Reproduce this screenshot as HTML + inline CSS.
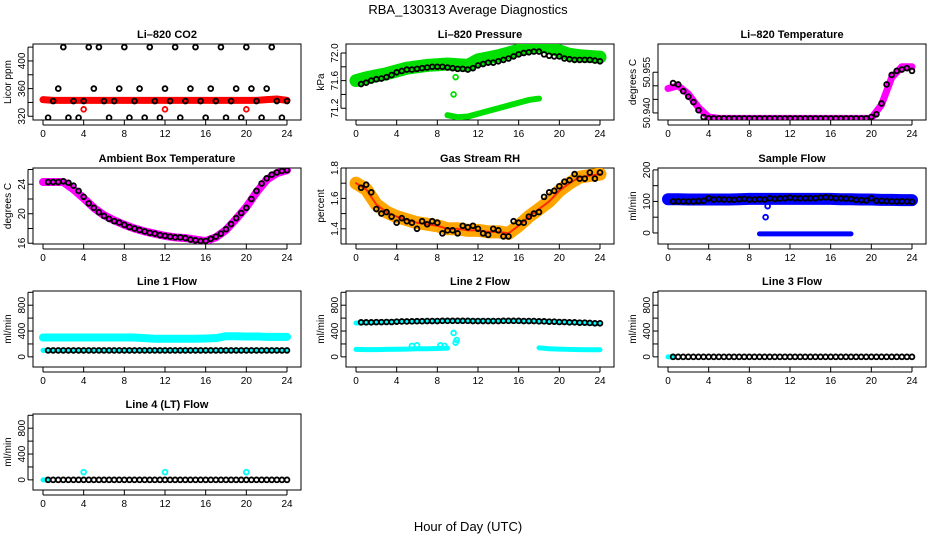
<!DOCTYPE html>
<html><head><meta charset="utf-8">
<style>
body{margin:0;background:#fff;}
svg{display:block;font-family:"Liberation Sans",sans-serif;}
</style></head>
<body>
<svg id="c" width="936" height="540" viewBox="0 0 936 540">
<text x="468" y="14" text-anchor="middle" font-size="13">RBA_130313  Average Diagnostics</text>
<text x="468" y="531" text-anchor="middle" font-size="13">Hour of Day (UTC)</text>
</svg>
<script>
// ---- data (hours, values) ----
const halfHours = [0.5,1,1.5,2,2.5,3,3.5,4,4.5,5,5.5,6,6.5,7,7.5,8,8.5,9,9.5,10,10.5,11,11.5,12,12.5,13,13.5,14,14.5,15,15.5,16,16.5,17,17.5,18,18.5,19,19.5,20,20.5,21,21.5,22,22.5,23,23.5,24];
const bandHours = [0,1,2,3,4,5,6,7,8,9,10,11,12,13,14,15,16,17,18,19,20,21,22,23,24];

const co2Black = [318,342,360,420,318,342,318,342,420,360,420,342,318,342,360,420,318,342,360,318,420,342,318,360,342,420,318,342,360,420,342,318,360,342,420,318,342,360,318,420,360,342,318,360,420,342,318,342];
const co2Red = [344,343,343,343,343,343,343,343,343,343,343,343,343,343,343,343,343,343,343,343,343,343,344,345,343];
const co2RedOutHours = [4,12,20];
const co2RedOut = [330,330,330];

const presBlack = [71.55,71.57,71.6,71.62,71.63,71.65,71.68,71.72,71.74,71.76,71.76,71.77,71.78,71.79,71.8,71.8,71.8,71.79,71.78,71.77,71.77,71.76,71.78,71.82,71.84,71.86,71.86,71.88,71.9,71.92,71.95,71.98,72.0,72.01,72.02,72.02,71.98,71.96,71.95,71.95,71.92,71.91,71.9,71.9,71.9,71.9,71.89,71.88];
const presUpper = [71.6,71.64,71.67,71.7,71.74,71.78,71.8,71.82,71.83,71.84,71.83,71.82,71.9,71.93,71.96,72.0,72.04,72.08,72.1,72.08,72.03,71.98,71.96,71.95,71.94];
const presLowerHours = [9,10,11,12,13,14,15,16,17,18];
const presLower = [71.1,71.07,71.08,71.12,71.16,71.2,71.24,71.28,71.32,71.34];
const presOutHours = [9.6,9.8];
const presOut = [71.4,71.65];

const tempBlack = [50.951,50.9505,50.948,50.946,50.944,50.941,50.9385,50.938,50.938,50.938,50.938,50.938,50.938,50.938,50.938,50.938,50.938,50.938,50.938,50.938,50.938,50.938,50.938,50.938,50.938,50.938,50.938,50.938,50.938,50.938,50.938,50.938,50.938,50.938,50.938,50.938,50.938,50.938,50.938,50.9385,50.9395,50.9435,50.9505,50.954,50.9555,50.956,50.9565,50.9555];
const tempBand = [50.949,50.950,50.947,50.942,50.9385,50.938,50.938,50.938,50.938,50.938,50.938,50.938,50.938,50.938,50.938,50.938,50.938,50.938,50.938,50.938,50.938,50.943,50.953,50.957,50.957];

const ambBlack = [24.3,24.3,24.3,24.4,24.2,23.8,23.1,22.3,21.4,20.8,20.2,19.7,19.3,19.0,18.8,18.5,18.2,18.0,17.8,17.6,17.4,17.3,17.1,17.0,16.9,16.8,16.8,16.7,16.5,16.4,16.3,16.3,16.6,16.9,17.3,17.9,18.6,19.4,20.1,20.8,22.0,23.1,24.1,24.8,25.3,25.6,25.8,25.9];
const ambBand = [24.3,24.3,24.3,23.3,22.1,20.8,19.8,19.1,18.5,18.0,17.6,17.3,17.0,16.8,16.7,16.5,16.3,16.8,17.8,19.3,20.9,22.9,24.6,25.5,25.9];

const rhBlack = [1.67,1.69,1.64,1.53,1.50,1.51,1.48,1.44,1.47,1.45,1.44,1.40,1.45,1.43,1.45,1.44,1.37,1.39,1.39,1.37,1.42,1.41,1.42,1.40,1.37,1.36,1.40,1.39,1.35,1.35,1.45,1.44,1.44,1.48,1.50,1.51,1.61,1.64,1.65,1.68,1.71,1.72,1.76,1.73,1.73,1.77,1.73,1.77];
const rhBand = [1.70,1.66,1.56,1.51,1.48,1.46,1.44,1.43,1.42,1.40,1.40,1.39,1.39,1.38,1.38,1.37,1.42,1.48,1.53,1.58,1.65,1.70,1.74,1.75,1.76];

const sfBlack = [100,100,100,100,100,101,102,110,106,107,106,106,105,107,108,106,106,107,106,110,108,109,110,112,110,110,110,110,110,112,113,112,110,110,109,108,105,104,103,110,102,102,101,100,100,100,100,99];
const sfBand = [107,107,106,106,106,106,106,107,108,108,108,108,108,108,108,108,108,107,107,106,106,105,105,104,104];
const sfLowHours = [9,10,11,12,13,14,15,16,17,18];
const sfLow = [-3,-3,-3,-3,-3,-3,-3,-3,-3,-3];
const sfOutHours = [9.6,9.8];
const sfOut = [50,85];

const l1Black = halfHours.map(()=>100);
const l1Band = [300,300,300,300,300,300,300,300,300,300,290,280,280,280,280,280,285,290,320,320,315,315,310,310,310];
const l1Low = [100,100,100,100,100,100,100,100,100,100,100,100,100,100,100,100,100,100,100,100,100,100,100,100,100];

const l2Black = [535,535,535,538,538,540,540,545,548,548,550,552,552,555,555,555,558,558,558,558,558,558,555,555,555,555,555,555,558,558,558,558,555,555,555,550,550,545,545,540,540,535,535,530,530,525,520,520];
const l2Band = [525,530,535,540,545,548,550,552,555,558,558,558,558,555,555,555,555,552,550,545,540,535,530,520,515];
const l2LowHours = [0,1,2,3,4,5,6,7,8,9];
const l2Low = [115,112,112,115,118,120,125,125,130,135];
const l2Low2Hours = [18,19,20,21,22,23,24];
const l2Low2 = [140,125,120,115,112,110,110];
const l2OutHours = [5.5,6,8.3,8.7,9.6,9.8,9.9];
const l2Out = [170,180,180,170,370,220,260];

const l3Black = halfHours.map(()=>0);
const l4Black = halfHours.map(()=>0);
const l4OutHours = [4,12,20];
const l4Out = [120,120,120];

// ---- drawing ----
const svg = document.getElementById('c');
const NS = 'http://www.w3.org/2000/svg';
function mk(tag, attrs, parent){const e=document.createElementNS(NS,tag);for(const k in attrs)e.setAttribute(k,attrs[k]);(parent||svg).appendChild(e);return e;}

function panel(name, title, ylab, left, top, ymin, ymax, ticks, labels){
  const W=268,H=76;
  const g=mk('g',{});
  
  
  const xs = h => left+10+h*(244/24);
  const ys = v => top+H-(v-ymin)/(ymax-ymin)*H;
  const clipId='clip-'+name;
  const cp=mk('clipPath',{id:clipId},g);mk('rect',{x:left,y:top,width:W,height:H},cp);
  const t=mk('text',{x:left+W/2,y:top-6,'text-anchor':'middle','font-size':11,'font-weight':'bold'},g);t.textContent=title;
  
  
  const yl=mk('text',{x:0,y:0,'text-anchor':'middle','font-size':10,transform:`translate(${left-22},${top+H/2}) rotate(-90)`},g);yl.textContent=ylab;
  
  
  for(let h=0;h<=24;h+=4){
    mk('line',{x1:xs(h),x2:xs(h),y1:top+H,y2:top+H+5,stroke:'#000'},g);
    const tx=mk('text',{x:xs(h),y:top+H+17,'text-anchor':'middle','font-size':10},g);tx.textContent=h;
    
    
  }
  mk('line',{x1:xs(0),x2:xs(24),y1:top+H+5,y2:top+H+5,stroke:'#000'},g);
  ticks.forEach((v,i)=>{
    const y=ys(v);
    mk('line',{x1:left-5,x2:left,y1:y,y2:y,stroke:'#000'},g);
    if(labels[i]){
      const ty=mk('text',{x:0,y:0,'text-anchor':'middle','font-size':10,transform:`translate(${left-8},${y}) rotate(-90)`},g);ty.textContent=labels[i];
      
      
    }
  });
  mk('line',{x1:left-5,x2:left-5,y1:ys(ticks[0]),y2:ys(ticks[ticks.length-1]),stroke:'#000'},g);
  mk('rect',{x:left,y:top,width:W,height:H,fill:'none',stroke:'#000'},g);
  const plot=mk('g',{'clip-path':`url(#${clipId})`},g);
  return {
    band(hours, vals, color, width, nm){
      const p=mk('polyline',{points:hours.map((h,i)=>xs(h)+','+ys(vals[i])).join(' '),fill:'none',stroke:color,'stroke-width':width,'stroke-linejoin':'round','stroke-linecap':'round'},plot);
      
      
    },
    pts(hours, vals, color, nm){
      hours.forEach((h,i)=>{
        const c=mk('circle',{cx:xs(h),cy:ys(vals[i]),r:2.4,fill:'none',stroke:color,'stroke-width':1.8},plot);
        
        
      });
    }
  };
}
const C1=33,C2=346,C3=658, R1=44,R2=168,R3=291,R4=414;
const flowTicks=[0,200,400,600,800,1000], flowLab=['0','','400','','800',''];

let p=panel('co2','Li\u2013820 CO2','Licor ppm',C1,R1,314.6,424.5,[320,340,360,380,400,420],['320','','360','','400','']);
p.band(bandHours,co2Red,'#ff0000',7,'co2-red-band');
p.pts(co2RedOutHours,co2RedOut,'#ff0000','co2-red-outlier');
p.pts(halfHours,co2Black,'#000','co2-mean-point');

p=panel('pressure','Li\u2013820 Pressure','kPa',C2,R1,71.03,72.13,[71.2,71.4,71.6,71.8,72.0],['71.2','','71.6','','72.0']);
p.band(bandHours,presUpper,'#00e000',13,'pressure-green-band');
p.band(presLowerHours,presLower,'#00e000',6,'pressure-green-low-band');
p.pts(presOutHours,presOut,'#00e000','pressure-outlier');
p.pts(halfHours,presBlack,'#000','pressure-mean-point');

p=panel('temperature','Li\u2013820 Temperature','degrees C',C3,R1,50.9374,50.9654,[50.940,50.945,50.950,50.955],['50.940','','','50.955']);
p.band(bandHours,tempBand,'#ff00ff',7,'temperature-magenta-band');
p.pts(halfHours,tempBlack,'#000','temperature-mean-point');

p=panel('ambient','Ambient Box Temperature','degrees C',C1,R2,15.9,26.2,[16,18,20,22,24,26],['16','','20','','24','']);
p.band(bandHours,ambBand,'#ff00ff',8,'ambient-magenta-band');
p.pts(halfHours,ambBlack,'#000','ambient-mean-point');

p=panel('rh','Gas Stream RH','percent',C2,R2,1.30,1.80,[1.3,1.4,1.5,1.6,1.7,1.8],['','1.4','','1.6','','1.8']);
p.band(bandHours,rhBand,'#ffa500',13,'rh-orange-band');
p.band(bandHours,rhBand,'#ff2a00',2,'rh-red-band');
p.pts(halfHours,rhBlack,'#000','rh-mean-point');

p=panel('sample-flow','Sample Flow','ml/min',C3,R2,-35,206,[0,50,100,150,200],['0','','100','','200']);
p.band(bandHours,sfBand,'#0000ff',12,'sample-flow-blue-band');
p.band(sfLowHours,sfLow,'#0000ff',5,'sample-flow-low-band');
p.pts(sfOutHours,sfOut,'#0000ff','sample-flow-outlier');
p.pts(halfHours,sfBlack,'#000','sample-flow-mean-point');

p=panel('line1','Line 1 Flow','ml/min',C1,R3,-157,1020,flowTicks,flowLab);
p.band(bandHours,l1Band,'#00ffff',8,'line1-cyan-band');
p.band(bandHours,l1Low,'#00ffff',5,'line1-cyan-low-band');
p.pts(halfHours,l1Black,'#000','line1-mean-point');

p=panel('line2','Line 2 Flow','ml/min',C2,R3,-157,1020,flowTicks,flowLab);
p.band(bandHours,l2Band,'#00ffff',5,'line2-cyan-band');
p.band(l2LowHours,l2Low,'#00ffff',5,'line2-cyan-low-band');
p.band(l2Low2Hours,l2Low2,'#00ffff',5,'line2-cyan-low-band-2');
p.pts(l2OutHours,l2Out,'#00ffff','line2-outlier');
p.pts(halfHours,l2Black,'#000','line2-mean-point');

p=panel('line3','Line 3 Flow','ml/min',C3,R3,-157,1020,flowTicks,flowLab);
p.band([0,0.4],[0,0],'#00ffff',5,'line3-cyan-band');
p.pts(halfHours,l3Black,'#000','line3-mean-point');

p=panel('line4','Line 4 (LT) Flow','ml/min',C1,R4,-157,1020,flowTicks,flowLab);
p.band([0,0.4],[0,0],'#00ffff',5,'line4-cyan-band');
p.pts(halfHours,l4Black,'#000','line4-mean-point');
p.pts(l4OutHours,l4Out,'#00ffff','line4-outlier');
</script>
</body></html>
